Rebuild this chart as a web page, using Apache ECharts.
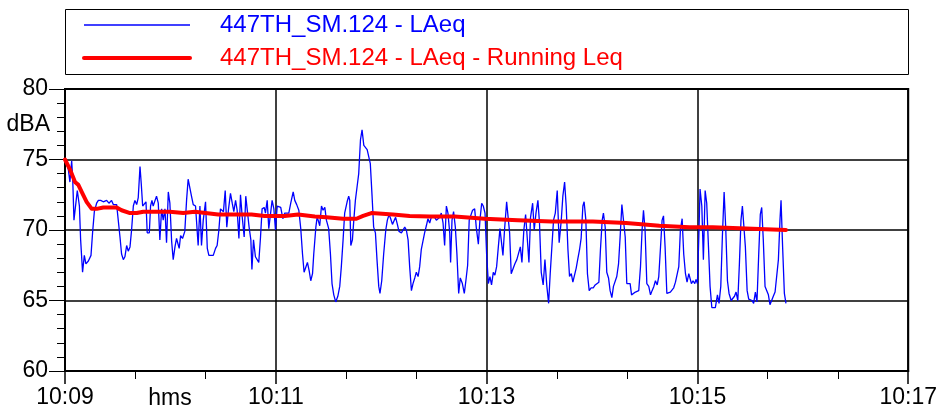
<!DOCTYPE html>
<html>
<head>
<meta charset="utf-8">
<script src="https://cdn.jsdelivr.net/npm/echarts@6.0.0/dist/echarts.min.js"></script>
<style>
  html, body { margin: 0; padding: 0; background: #fff; }
  #chart { width: 940px; height: 412px; }
</style>
</head>
<body>
<div id="chart"></div>
<script>
// seconds after 10:09:00, dBA
const laeq = [
  [0, 75.0], [1.9, 74.3], [2.8, 73.4], [3.8, 74.9], [4.4, 73.6], [5.1, 70.7], [5.9, 70.6], [7.0, 72.8], [8.2, 71.7], [8.9, 69.3],
  [10.0, 67.0], [11.0, 68.2], [11.9, 67.6], [13.3, 67.8], [14.8, 68.2], [15.7, 69.8], [16.7, 71.3], [18.0, 71.9], [19.0, 72.1], [20.3, 72.1],
  [21.8, 72.0], [23.7, 72.1], [25.0, 71.9], [26.5, 72.1], [27.5, 71.8], [28.4, 71.7], [29.4, 71.8], [30.3, 71.9], [31.3, 69.5], [32.2, 68.3],
  [33.2, 67.9], [34.1, 68.1], [35.1, 68.9], [36.0, 68.5], [37.0, 68.8], [37.9, 70.0], [38.9, 71.7], [39.8, 72.1], [40.8, 71.8], [41.7, 72.3],
  [42.7, 74.5], [43.4, 73.3], [44.2, 71.7], [45.1, 71.6], [46.1, 72.0], [46.8, 69.8], [48.0, 69.8], [48.7, 71.7], [49.5, 72.1], [50.2, 71.7],
  [51.2, 71.8], [52.1, 72.4], [53.1, 71.9], [54.0, 69.3], [55.0, 71.5], [55.9, 70.7], [56.9, 71.5], [57.8, 69.1], [58.8, 72.7], [59.7, 71.9],
  [60.7, 69.2], [61.6, 67.9], [62.6, 68.8], [63.5, 69.4], [64.5, 69.4], [65.0, 68.7], [65.8, 69.6], [66.9, 69.4], [68.2, 69.9], [69.2, 72.1],
  [70.1, 73.6], [71.1, 73.7], [72.0, 72.4], [73.0, 71.8], [74.3, 71.7], [75.1, 71.6], [75.8, 68.9], [76.8, 71.7], [77.7, 68.9], [78.7, 70.7],
  [80.0, 72.0], [81.0, 68.7], [81.9, 68.2], [83.0, 68.2], [84.4, 68.2], [85.7, 68.7], [86.6, 68.9], [87.6, 70.0], [88.5, 71.5], [89.5, 71.6],
  [90.2, 71.3], [91.2, 72.8], [92.1, 70.2], [93.1, 71.5], [94.2, 72.6], [95.2, 71.9], [96.1, 71.3], [97.1, 72.1], [98.0, 71.4], [99.0, 69.4],
  [99.9, 72.5], [100.9, 70.9], [102.0, 69.5], [102.9, 72.4], [103.9, 72.3], [104.8, 70.2], [105.8, 69.3], [106.4, 67.2], [107.3, 69.3], [108.4, 68.1],
  [109.4, 68.1], [110.3, 67.7], [111.3, 69.5], [112.2, 71.5], [113.4, 71.6], [114.1, 71.2], [115.1, 72.1], [116.0, 70.1], [117.0, 70.0], [117.9, 72.1],
  [118.9, 71.5], [119.8, 70.0], [120.8, 71.7], [121.7, 71.7], [122.8, 71.6], [124.0, 70.8], [125.1, 71.2], [126.1, 71.1], [127.4, 71.2], [128.5, 71.9],
  [129.9, 72.7], [130.8, 72.1], [131.9, 71.8], [133.1, 71.4], [134.2, 70.1], [135.2, 68.3], [136.1, 67.0], [137.1, 66.9], [138.0, 67.7], [139.0, 67.1],
  [139.9, 66.4], [140.9, 66.9], [141.6, 68.3], [142.8, 70.2], [143.5, 70.9], [144.1, 70.7], [145.0, 70.3], [146.0, 71.7], [146.9, 71.4], [147.9, 71.6],
  [148.8, 70.7], [150.1, 70.1], [151.1, 68.3], [152.0, 66.2], [153.0, 65.4], [154.1, 64.9], [155.3, 65.3], [156.4, 66.0], [157.3, 67.4], [158.3, 69.3],
  [159.2, 71.2], [160.6, 72.0], [161.5, 72.4], [162.1, 72.1], [162.7, 68.9], [163.6, 69.3], [164.4, 70.7], [165.3, 72.1], [166.3, 73.1], [167.2, 74.0],
  [168.2, 76.4], [169.1, 77.1], [170.1, 76.0], [171.0, 75.9], [172.0, 75.7], [172.9, 75.7], [173.8, 74.7], [174.8, 72.4], [175.7, 70.2], [176.7, 69.8],
  [177.6, 67.9], [178.6, 66.0], [179.3, 65.5], [180.3, 66.4], [181.4, 68.3], [182.6, 70.0], [183.5, 70.7], [184.5, 71.1], [185.4, 70.8], [186.4, 70.4],
  [187.3, 70.5], [188.2, 70.9], [189.2, 70.4], [190.1, 69.9], [191.5, 69.8], [192.4, 69.7], [193.4, 70.2], [194.3, 70.0], [195.3, 69.3], [196.2, 67.4],
  [197.2, 65.7], [198.1, 66.2], [199.1, 66.6], [200.0, 67.0], [201.0, 66.7], [201.9, 67.4], [202.8, 68.6], [203.8, 68.7], [204.7, 69.8], [205.7, 70.3],
  [206.6, 70.8], [207.6, 70.5], [208.5, 70.9], [209.5, 70.9], [210.4, 70.9], [211.4, 70.7], [212.3, 70.7], [213.3, 70.9], [214.2, 71.2], [215.2, 70.5],
  [216.1, 68.9], [217.1, 71.7], [218.0, 71.2], [219.0, 69.8], [219.5, 67.7], [220.3, 70.7], [221.2, 71.3], [222.2, 70.2], [223.1, 68.3], [224.1, 65.5],
  [225.0, 66.6], [226.2, 66.2], [227.3, 65.5], [228.2, 66.4], [229.2, 67.5], [230.1, 70.7], [231.1, 70.7], [232.0, 71.4], [233.2, 71.5], [234.1, 70.2],
  [235.3, 69.0], [236.2, 70.7], [237.2, 71.9], [238.1, 71.7], [239.1, 71.2], [240.0, 68.3], [241.0, 66.2], [241.9, 66.7], [242.8, 66.1], [243.8, 67.0],
  [244.7, 66.8], [245.7, 67.4], [246.6, 68.7], [247.6, 70.1], [248.5, 70.2], [249.3, 68.2], [250.2, 70.0], [251.4, 72.0], [252.1, 71.9], [253.1, 69.8],
  [254.0, 66.9], [255.2, 67.3], [256.1, 67.6], [257.2, 67.9], [258.2, 68.0], [259.2, 68.8], [260.1, 67.7], [261.2, 70.0], [262.2, 71.1], [263.1, 71.2],
  [264.1, 67.7], [265.0, 70.9], [266.2, 71.9], [267.1, 70.0], [268.1, 71.2], [269.2, 72.1], [270.1, 70.5], [271.1, 67.0], [272.2, 66.1], [273.2, 67.9],
  [274.3, 66.0], [275.3, 64.8], [276.2, 66.9], [277.2, 66.8], [278.1, 70.7], [279.1, 71.2], [280.2, 72.8], [281.3, 69.1], [282.5, 70.7], [283.4, 72.4],
  [284.4, 73.4], [285.3, 71.7], [286.3, 68.6], [287.2, 66.7], [288.2, 66.9], [289.1, 66.3], [290.1, 66.4], [291.0, 67.3], [292.0, 68.0], [292.9, 68.6],
  [293.8, 69.4], [294.8, 71.7], [295.5, 72.0], [296.5, 70.7], [297.4, 66.9], [298.4, 65.7], [299.5, 65.9], [300.7, 65.9], [301.8, 66.1], [302.9, 66.2],
  [303.9, 66.3], [304.8, 68.6], [305.8, 70.7], [306.5, 71.2], [307.5, 70.2], [308.4, 67.0], [309.4, 66.6], [310.3, 65.7], [311.3, 65.2], [312.2, 66.0],
  [313.2, 66.0], [314.1, 66.7], [315.1, 67.6], [316.0, 69.5], [317.0, 71.8], [317.9, 71.9], [318.9, 69.5], [319.8, 66.2], [320.8, 66.1], [321.7, 66.2],
  [322.5, 65.4], [323.6, 65.5], [324.7, 65.6], [325.7, 65.7], [326.6, 65.7], [327.6, 67.4], [328.5, 70.0], [329.3, 71.4], [330.2, 70.0], [331.2, 66.2],
  [332.3, 66.0], [333.3, 65.4], [334.2, 65.7], [335.2, 66.0], [336.1, 66.4], [337.1, 66.1], [338.0, 66.7], [339.0, 68.8], [339.9, 70.7], [340.7, 71.0],
  [341.6, 68.8], [342.6, 65.5], [343.5, 65.6], [344.6, 65.6], [345.6, 65.7], [346.5, 65.9], [347.5, 66.3], [348.4, 66.2], [349.4, 67.4], [350.3, 70.0],
  [351.3, 70.8], [352.2, 68.3], [353.2, 66.9], [354.1, 66.3], [355.1, 66.9], [355.8, 67.0], [356.6, 66.2], [357.5, 66.4], [358.5, 66.2], [359.2, 66.5],
  [360.0, 66.2], [360.8, 69.5], [361.5, 72.9], [362.5, 71.7], [363.4, 67.9], [364.4, 72.8], [365.3, 71.9], [366.3, 68.8], [367.2, 66.0], [368.2, 64.5],
  [369.1, 64.4], [370.2, 64.5], [371.4, 65.4], [372.3, 64.8], [373.3, 66.0], [374.2, 69.5], [375.2, 72.7], [376.1, 70.2], [377.1, 66.4], [378.0, 65.5],
  [379.2, 65.0], [380.1, 65.0], [381.1, 65.3], [382.0, 65.6], [383.0, 65.0], [383.9, 67.6], [384.8, 70.7], [385.6, 71.7], [386.4, 71.8], [387.3, 68.8],
  [388.3, 65.7], [389.2, 65.1], [390.2, 65.0], [391.1, 65.0], [392.0, 64.8], [393.0, 65.6], [393.9, 64.9], [394.9, 68.3], [395.8, 71.1], [396.6, 71.6],
  [397.5, 69.3], [398.5, 66.0], [399.4, 66.0], [400.4, 65.4], [401.3, 64.7], [402.3, 64.8], [403.2, 65.3], [404.2, 65.6], [405.1, 65.5], [406.1, 67.9],
  [407.0, 70.7], [407.6, 72.1], [408.5, 68.8], [409.5, 65.5], [410.4, 64.8]
];

const runningLeq = [
  [0, 75.0], [2.8, 74.3], [5.7, 73.4], [7.6, 73.2], [9.5, 72.7], [12.3, 72.0], [15.2, 71.5], [18.0, 71.5], [21.8, 71.6], [29.4, 71.6],
  [32.2, 71.4], [37.0, 71.2], [40.8, 71.2], [44.6, 71.3], [52.1, 71.3], [59.7, 71.3], [67.3, 71.2], [73.9, 71.3], [87.2, 71.1], [106.2, 71.1],
  [113.7, 71.0], [125.1, 71.0], [132.7, 71.1], [142.2, 70.95], [148.8, 70.9], [158.3, 70.8], [165.9, 70.8], [169.7, 71.0], [174.4, 71.2], [186.7, 71.1],
  [196.2, 71.0], [207.6, 70.95], [221.8, 70.95], [238.9, 70.8], [257.8, 70.7], [276.8, 70.6], [300.5, 70.6], [319.4, 70.5], [338.4, 70.3], [355.5, 70.2],
  [368.7, 70.2], [387.7, 70.1], [410.4, 70.0]
];

const timeLabels = ['10:09', '10:11', '10:13', '10:15', '10:17'];
const seriesNames = ['447TH_SM.124 - LAeq', '447TH_SM.124 - LAeq - Running Leq'];

const FONT = 'Liberation Sans, Arial, sans-serif';

const chart = echarts.init(document.getElementById('chart'), null, {renderer: 'canvas'});

chart.setOption({
  animation: false,
  backgroundColor: '#fff',
  grid: {
    left: 65,
    right: 31,
    top: 89,
    bottom: 41,
    show: true,
    borderColor: '#000',
    borderWidth: 2
  },
  legend: {
    orient: 'vertical',
    left: 82,
    top: 13,
    padding: 0,
    itemWidth: 106,
    itemHeight: 14,
    itemGap: 9,
    selectedMode: false,
    itemStyle: {opacity: 0},
    textStyle: {fontSize: 24, fontFamily: FONT, padding: [0, 0, 0, 25]},
    data: [
      {name: seriesNames[0], textStyle: {color: '#0000ff'}, lineStyle: {width: 1.3, color: '#0000ff'}},
      {name: seriesNames[1], textStyle: {color: '#ff0000'}, lineStyle: {width: 4, color: '#ff0000', cap: 'round'}}
    ]
  },
  xAxis: {
    type: 'value',
    min: 0,
    max: 480,
    interval: 120,
    axisLine: {show: true, lineStyle: {color: '#000', width: 2}},
    axisTick: {show: true, length: 13, lineStyle: {color: '#000', width: 1.5}},
    minorTick: {show: true, splitNumber: 3, length: 8, lineStyle: {color: '#000', width: 1}},
    splitLine: {show: true, lineStyle: {color: '#000', width: 1.5}},
    axisLabel: {
      margin: 15,
      color: '#000',
      fontSize: 23,
      fontFamily: FONT,
      showMaxLabel: true,
      showMinLabel: true,
      formatter: v => timeLabels[Math.round(v / 120)]
    }
  },
  yAxis: {
    type: 'value',
    min: 60,
    max: 80,
    interval: 5,
    axisLine: {show: true, lineStyle: {color: '#000', width: 2}},
    axisTick: {show: true, length: 16, lineStyle: {color: '#000', width: 1}},
    minorTick: {show: true, splitNumber: 5, length: 8, lineStyle: {color: '#000', width: 1}},
    splitLine: {show: true, lineStyle: {color: '#000', width: 1.5}},
    axisLabel: {margin: 17, color: '#000', fontSize: 23, fontFamily: FONT}
  },
  graphic: [
    {
      type: 'rect',
      shape: {x: 65.5, y: 9.5, width: 843, height: 65},
      style: {fill: 'none', stroke: '#000', lineWidth: 1}
    },
    {
      type: 'text',
      x: 50,
      y: 125,
      style: {text: 'dBA', fill: '#000', font: '23px ' + FONT, textAlign: 'right', textVerticalAlign: 'middle'}
    },
    {
      type: 'text',
      x: 170,
      y: 399,
      style: {text: 'hms', fill: '#000', font: '23px ' + FONT, textAlign: 'center', textVerticalAlign: 'middle'}
    }
  ],
  series: [
    {
      name: seriesNames[0],
      type: 'line',
      data: laeq,
      symbol: 'none',
      showSymbol: false,
      z: 2,
      lineStyle: {color: '#0000ff', width: 1.3},
      itemStyle: {color: '#0000ff'}
    },
    {
      name: seriesNames[1],
      type: 'line',
      data: runningLeq,
      symbol: 'none',
      showSymbol: false,
      z: 3,
      lineStyle: {color: '#ff0000', width: 4, cap: 'round', join: 'round'},
      itemStyle: {color: '#ff0000'}
    }
  ]
});
</script>
</body>
</html>
